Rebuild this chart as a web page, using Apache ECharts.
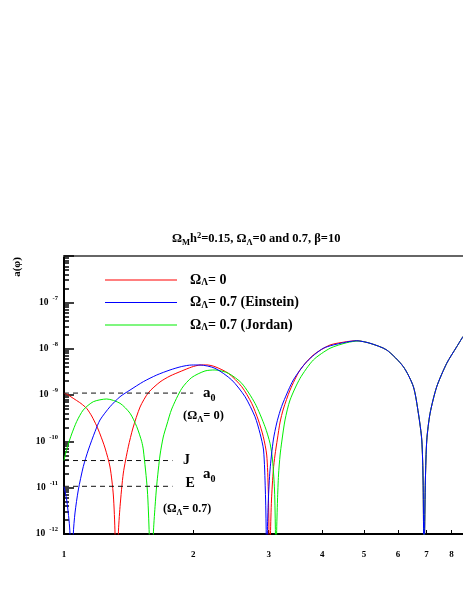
<!DOCTYPE html>
<html>
<head>
<meta charset="utf-8">
<script src="https://cdn.jsdelivr.net/npm/echarts@6/dist/echarts.min.js"></script>
<style>html,body{margin:0;padding:0;background:#fff}#c{width:463px;height:599px}</style>
</head>
<body>
<div id="c"></div>
<script>
// ---------- data ----------
const seriesNames = ['ΩΛ= 0', 'ΩΛ= 0.7 (Einstein)', 'ΩΛ= 0.7 (Jordan)'];

const redPhi = [1.000, 1.015, 1.061, 1.0955, 1.1296, 1.1602, 1.1919, 1.2132, 1.2463, 1.2802, 1.3031, 1.3151, 1.327, 1.3386, 1.3509, 1.375, 1.412, 1.448, 1.504, 1.5725, 1.674, 1.7665, 1.881, 1.985, 2.075, 2.152, 2.249, 2.416, 2.596, 2.738, 2.837, 2.914, 2.968, 2.993, 3.005, 3.013, 3.029, 3.045, 3.075, 3.103, 3.143, 3.189, 3.245, 3.364, 3.5495, 3.812, 4.169, 4.561, 4.811];
const redA   = [1.09e-9, 1.04e-9, 8.0e-10, 6.56e-10, 5.12e-10, 3.52e-10, 2.14e-10, 1.44e-10, 7.18e-11, 2.79e-11, 6.95e-12, 1e-12, 1e-14, 1e-12, 3.9e-12, 2.07e-11, 7.6e-11, 1.94e-10, 5.5e-10, 1.12e-9, 1.91e-9, 2.57e-9, 3.30e-9, 4.02e-9, 4.44e-9, 4.46e-9, 4.08e-9, 2.94e-9, 1.51e-9, 6.62e-10, 2.89e-10, 1.26e-10, 5.07e-11, 8.9e-12, 1e-12, 1e-14, 1e-12, 5.42e-12, 2.41e-11, 5.07e-11, 1.12e-10, 2.61e-10, 4.99e-10, 1.28e-9, 3.47e-9, 7.3e-9, 1.2e-8, 1.415e-8, 1.487e-8];

const bluePhi = [1.000, 1.0146, 1.0272, 1.0327, 1.042, 1.0512, 1.0608, 1.0798, 1.109, 1.1393, 1.1811, 1.2132, 1.2802, 1.3509, 1.4254, 1.5309, 1.6449, 1.7665, 1.881, 1.985, 2.075, 2.249, 2.460, 2.642, 2.787, 2.863, 2.918, 2.946, 2.960, 2.968, 2.978, 2.994, 3.021, 3.075, 3.132, 3.189, 3.245, 3.424, 3.680, 4.022, 4.478, 4.811];
const blueA   = [1.05e-11, 5.42e-12, 2.0e-12, 1e-12, 1e-14, 1e-12, 2.84e-12, 8.9e-12, 2.84e-11, 6.5e-11, 1.62e-10, 2.89e-10, 5.59e-10, 9.19e-10, 1.28e-9, 1.94e-9, 2.70e-9, 3.47e-9, 4.12e-9, 4.44e-9, 4.44e-9, 3.77e-9, 2.11e-9, 9.19e-10, 3.40e-10, 1.49e-10, 6.5e-11, 8.9e-12, 1e-12, 1e-14, 1e-12, 5.42e-12, 2.41e-11, 1.07e-10, 2.49e-10, 4.52e-10, 7.06e-10, 2.11e-9, 5.24e-9, 1.02e-8, 1.346e-8, 1.48e-8];

const greenPhi = [1.000, 1.0108, 1.0233, 1.0422, 1.0705, 1.109, 1.1704, 1.2577, 1.3509, 1.4254, 1.4776, 1.5178, 1.531, 1.564, 1.580, 1.6015, 1.6153, 1.630, 1.6449, 1.6743, 1.7035, 1.7356, 1.7827, 1.881, 1.985, 2.131, 2.249, 2.416, 2.596, 2.787, 2.941, 3.021, 3.062, 3.095, 3.110, 3.1203, 3.130, 3.145, 3.162, 3.189, 3.217, 3.2745, 3.364, 3.5495, 3.812, 4.169, 4.561, 4.853];
const greenA   = [3.85e-11, 5.89e-11, 8.76e-11, 1.44e-10, 2.68e-10, 4.75e-10, 7.17e-10, 8.2e-10, 6.62e-10, 4.03e-10, 2.07e-10, 9.8e-11, 6.5e-11, 8.9e-12, 1e-12, 1e-14, 1e-12, 3.88e-12, 1.14e-11, 5.07e-11, 1.24e-10, 2.25e-10, 4.99e-10, 1.38e-9, 2.39e-9, 3.30e-9, 3.47e-9, 2.94e-9, 1.79e-9, 6.62e-10, 2.07e-10, 9.07e-11, 3.96e-11, 8.9e-12, 1e-12, 1e-14, 1e-12, 5.42e-12, 1.88e-11, 5.07e-11, 9.68e-11, 2.89e-10, 7.8e-10, 2.29e-9, 5.70e-9, 1.02e-8, 1.346e-8, 1.465e-8];

// common tail (curves coincide)
const tailPhi = [5.168, 5.651, 6.179, 6.521, 6.698, 6.821, 6.869, 6.887, 6.906, 6.925, 6.955, 7.007, 7.132, 7.391, 7.798, 8.228, 8.51];
const tailA   = [1.306e-8, 9.36e-9, 4.08e-9, 1.51e-9, 4.03e-10, 1.07e-10, 1.46e-11, 1e-12, 1e-14, 1e-12, 1.46e-11, 1.07e-10, 4.03e-10, 1.51e-9, 4.83e-9, 1.10e-8, 1.83e-8];

// reference levels (dashed)
const a0Lambda0 = 1.1e-9;
const a0Jordan = 3.85e-11;
const a0Einstein = 1.07e-11;
const dashPhiLong = [1, 2.0];
const dashPhiShort = [1, 1.79];

// ticks
const xTicks = [1, 2, 3, 4, 5, 6, 7, 8];
const yMajor = [1e-12, 1e-11, 1e-10, 1e-9, 1e-8, 1e-7, 1e-6];
const yLabelTicks = [1e-12, 1e-11, 1e-10, 1e-9, 1e-8, 1e-7];
const yMinor = [];
for (let e = -12; e < -6; e++) for (let m = 2; m <= 9; m++) yMinor.push(m * Math.pow(10, e));

// ---------- chart ----------
const SERIF = '"Liberation Serif", "DejaVu Serif", serif';
const zip = (xs, ys) => xs.map((x, i) => [x, ys[i]]);
const X_MIN = 1, X_MAX = 8.51, Y_MIN = 1e-12, Y_MAX = 1e-6;

function richSet(fs) {
  return {
    t:   { fontFamily: SERIF, fontWeight: 'bold', fontSize: fs, lineHeight: 16, verticalAlign: 'middle', color: '#000' },
    sub: { fontFamily: SERIF, fontWeight: 'bold', fontSize: fs * 0.68, lineHeight: 8, verticalAlign: 'bottom', color: '#000' },
    sup: { fontFamily: SERIF, fontWeight: 'bold', fontSize: fs * 0.68, lineHeight: 8, verticalAlign: 'top', color: '#000' }
  };
}
function omegaRich(name) {
  return '{t|Ω}{sub|Λ}{t|' + name.slice(2) + '}';
}
function fillRich(r) {
  const o = {};
  Object.keys(r).forEach(k => { o[k] = Object.assign({}, r[k], { fill: '#000' }); });
  return o;
}

const chart = echarts.init(document.getElementById('c'), null, { renderer: 'canvas' });
const colors = ['#ff0000', '#0000ff', '#00ee00'];
const lineSeries = (name, data, color) => ({
  name, type: 'line', data, showSymbol: false, symbol: 'none', smooth: 0.25, clip: true,
  lineStyle: { color, width: 1 }, itemStyle: { color }
});
const dashSeries = (name, data) => ({
  name, type: 'line', data, showSymbol: false, symbol: 'none', silent: true,
  lineStyle: { color: '#111', width: 1, type: [5, 4] }
});

chart.setOption({
  animation: false,
  backgroundColor: '#fff',
  title: {
    text: '{t|Ω}{sub|M}{t|h}{sup|2}{t|=0.15, Ω}{sub|Λ}{t|=0 and 0.7, β=10}',
    left: 167, top: 226,
    textStyle: { rich: richSet(12.5) }
  },
  legend: {
    orient: 'vertical', left: 100, top: 268,
    icon: 'rect', itemWidth: 72, itemHeight: 1, itemGap: 7.5,
    data: seriesNames,
    formatter: omegaRich,
    textStyle: { padding: [0, 0, 0, 8], rich: richSet(14) }
  },
  grid: { left: 64, right: 0, top: 256, bottom: 65 },
  xAxis: [{
    type: 'log', logBase: 10, min: X_MIN, max: X_MAX,
    axisLine: { lineStyle: { color: '#000', width: 2 } },
    axisTick: { inside: true, length: 4, lineStyle: { color: '#000', width: 1 }, customValues: xTicks },
    axisLabel: { customValues: xTicks, margin: 16, fontFamily: SERIF, fontWeight: 'bold', fontSize: 9, color: '#000', formatter: v => String(Math.round(v)) },
    splitLine: { show: false }
  }, {
    type: 'log', logBase: 10, min: X_MIN, max: X_MAX, position: 'top',
    axisLine: { lineStyle: { color: '#666', width: 2 } },
    axisTick: { show: false }, axisLabel: { show: false }, splitLine: { show: false }
  }],
  yAxis: [{
    type: 'log', logBase: 10, min: Y_MIN, max: Y_MAX, position: 'left',
    axisLine: { lineStyle: { color: '#000', width: 2 } },
    axisTick: { inside: true, length: 10, lineStyle: { color: '#000', width: 1.5 }, customValues: yMajor },
    axisLabel: {
      customValues: yLabelTicks, margin: 6,
      formatter: v => '{b|10}{s|' + Math.round(Math.log10(v)) + '}',
      rich: {
        b: { fontFamily: SERIF, fontWeight: 'bold', fontSize: 9.5, lineHeight: 16, verticalAlign: 'middle', color: '#000' },
        s: { fontFamily: SERIF, fontWeight: 'bold', fontSize: 6.5, lineHeight: 7, verticalAlign: 'top', color: '#000', padding: [0, 0, 0, 4] }
      }
    },
    splitLine: { show: false }
  }, {
    type: 'log', logBase: 10, min: Y_MIN, max: Y_MAX, position: 'left',
    axisLine: { show: false },
    axisTick: { inside: true, length: 5, lineStyle: { color: '#000', width: 1.5 }, customValues: yMinor },
    axisLabel: { show: false }, splitLine: { show: false }
  }],
  graphic: [
    { type: 'text', x: 17, y: 267, rotation: Math.PI / 2,
      style: { text: 'a(φ)', font: 'bold 11px ' + SERIF, fill: '#000', align: 'center', verticalAlign: 'middle' } },
    { type: 'text', x: 203, y: 393,
      style: { text: '{a|a}{s|0}', align: 'left', verticalAlign: 'middle',
        rich: { a: { fontFamily: SERIF, fontWeight: 'bold', fontSize: 15, lineHeight: 20, verticalAlign: 'middle', fill: '#000' },
                s: { fontFamily: SERIF, fontWeight: 'bold', fontSize: 10, lineHeight: 10, verticalAlign: 'bottom', fill: '#000' } } } },
    { type: 'text', x: 183, y: 416,
      style: { text: '{t|(Ω}{sub|Λ}{t|= 0)}', align: 'left', verticalAlign: 'middle', rich: fillRich(richSet(12.5)) } },
    { type: 'text', x: 183, y: 460,
      style: { text: 'J', font: 'bold 14px ' + SERIF, fill: '#000', align: 'left', verticalAlign: 'middle' } },
    { type: 'text', x: 185.5, y: 483.5,
      style: { text: 'E', font: 'bold 14px ' + SERIF, fill: '#000', align: 'left', verticalAlign: 'middle' } },
    { type: 'text', x: 203, y: 474,
      style: { text: '{a|a}{s|0}', align: 'left', verticalAlign: 'middle',
        rich: { a: { fontFamily: SERIF, fontWeight: 'bold', fontSize: 15, lineHeight: 20, verticalAlign: 'middle', fill: '#000' },
                s: { fontFamily: SERIF, fontWeight: 'bold', fontSize: 10, lineHeight: 10, verticalAlign: 'bottom', fill: '#000' } } } },
    { type: 'text', x: 163, y: 509,
      style: { text: '{t|(Ω}{sub|Λ}{t|= 0.7)}', align: 'left', verticalAlign: 'middle', rich: fillRich(richSet(12)) } }
  ],
  series: [
    lineSeries(seriesNames[0], zip(redPhi.concat(tailPhi), redA.concat(tailA)), colors[0]),
    lineSeries(seriesNames[2], zip(greenPhi.concat(tailPhi), greenA.concat(tailA)), colors[2]),
    lineSeries(seriesNames[1], zip(bluePhi.concat(tailPhi), blueA.concat(tailA)), colors[1]),
    dashSeries('a0 (ΩΛ=0)', zip(dashPhiLong, [a0Lambda0, a0Lambda0])),
    dashSeries('J', zip(dashPhiShort, [a0Jordan, a0Jordan])),
    dashSeries('E', zip(dashPhiShort, [a0Einstein, a0Einstein]))
  ]
});
</script>
</body>
</html>
